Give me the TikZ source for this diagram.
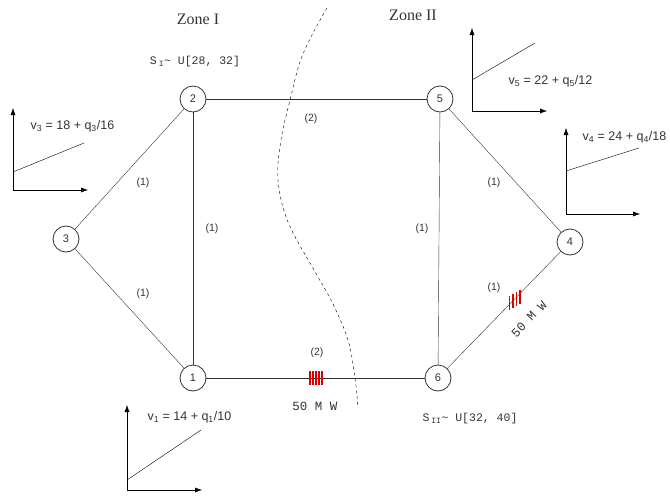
\documentclass[tikz,border=0pt]{standalone}
\usepackage{fontspec}
\setmainfont{Liberation Sans}
\newfontfamily\zonefont{Liberation Serif}
\newfontfamily\monofont{Liberation Mono}
\usetikzlibrary{arrows.meta}
\definecolor{ink}{HTML}{333333}
\begin{document}
\begin{tikzpicture}[x=1pt,y=-1pt,
  bus/.style={circle,draw=ink,thick,minimum size=26pt,inner sep=0pt,font=\fontsize{11}{12}\selectfont,text=ink},
  line/.style={draw=ink,thin},
  elabel/.style={font=\fontsize{10.5}{12}\selectfont,text=ink},
  axis/.style={draw=black,thin,-{Latex[length=7pt,width=5pt]}},
  curve/.style={draw=black,thin},
  eq/.style={font=\fontsize{12.5}{14}\selectfont,text=ink,anchor=west},
  mono/.style={font=\monofont\fontsize{11.5}{13}\selectfont,text=ink},
  big/.style={font=\monofont\fontsize{12.5}{14}\selectfont,text=ink},
  zone/.style={font=\zonefont\fontsize{16}{18}\selectfont,text=ink},
  hatch/.style={draw=red!85!black,line width=1.5pt}]
\useasboundingbox (0,0) rectangle (670,496);
% buses
\node[bus] (n2) at (193,99) {2};
\node[bus] (n5) at (440,99) {5};
\node[bus] (n3) at (66,239) {3};
\node[bus] (n4) at (570,242) {4};
\node[bus] (n1) at (193,378) {1};
\node[bus] (n6) at (438,378) {6};
% lines
\draw[line] (n2) -- (n5);
\draw[line] (n2) -- (n3);
\draw[line] (n2) -- (n1);
\draw[line] (n3) -- (n1);
\draw[line] (n5) -- (n6);
\draw[line] (n5) -- (n4);
\draw[line] (n4) -- (n6);
\draw[line] (n1) -- (n6);
% line labels
\node[elabel] (l25) at (311,119) {(2)};
\node[elabel] (l23) at (143,183) {(1)};
\node[elabel] (l21) at (212,229) {(1)};
\node[elabel] (l31) at (143,294) {(1)};
\node[elabel] (l16) at (317,353) {(2)};
\node[elabel] (l56) at (422,229) {(1)};
\node[elabel] (l54) at (494,183) {(1)};
\node[elabel] (l46) at (494,288) {(1)};
% limits
\foreach \x in {310,313,316,319,322} \draw[hatch] (\x,371) -- (\x,385);
\foreach \x/\y in {509.5/302.5,513/300.5,516.5/298.5,520/296.5}
  \draw[hatch] (\x,\y) ++(0,-7) -- ++(0,14);
\node[big] (c16) at (315,406) {50 M W};
\node[big,rotate=46,inner sep=1pt] (c46) at (529,319) {50 M W};
% zones
\node[zone] (z1) at (198,19) {Zone I};
\node[zone] (z2) at (413,15) {Zone II};
\draw[black,thin,dash pattern=on 3pt off 3pt] plot[smooth,tension=0.6] coordinates {(327,8) (312,35) (300,62) (290,100) (281,140) (278,180) (288,222) (314,270) (332,302) (348,340) (355,378) (358,408)};
% supplies
\node[mono] (s1) at (195,62) {S\,\textsubscript{I}\textasciitilde{} U[28, 32]};
\node[mono] (s2) at (470,419) {S\,\textsubscript{II}\textasciitilde{} U[32, 40]};
% cost curves
\coordinate (o3) at (13,190);
\draw[axis] (o3) -- (13,108);
\draw[axis] (o3) -- (88,190);
\draw[curve] (13,172) -- (84,143);
\node[eq] (e3) at (27,126) {v\textsubscript{3} = 18 + q\textsubscript{3}/16};
\coordinate (o5) at (472,111);
\draw[axis] (o5) -- (472,28);
\draw[axis] (o5) -- (547,111);
\draw[curve] (472,80) -- (535,43);
\node[eq] (e5) at (505,81) {v\textsubscript{5} = 22 + q\textsubscript{5}/12};
\coordinate (o4) at (566,214);
\draw[axis] (o4) -- (566,128);
\draw[axis] (o4) -- (640,214);
\draw[curve] (566,171) -- (639,148);
\node[eq] (e4) at (579,137) {v\textsubscript{4} = 24 + q\textsubscript{4}/18};
\coordinate (o1) at (127,490);
\draw[axis] (o1) -- (127,405);
\draw[axis] (o1) -- (202,490);
\draw[curve] (127,480) -- (201,430);
\node[eq] (e1) at (144,417) {v\textsubscript{1} = 14 + q\textsubscript{1}/10};
\end{tikzpicture}
\end{document}
